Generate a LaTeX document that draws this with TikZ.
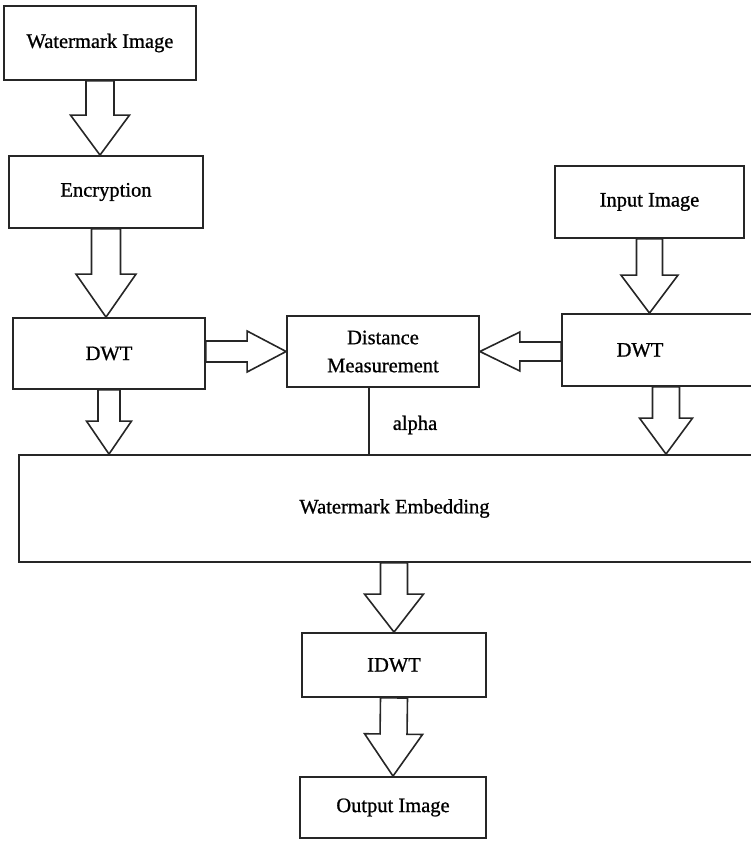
\documentclass[tikz,border=0pt]{standalone}
\usepackage{fontspec}
\setmainfont{Liberation Serif}[FakeBold=0.9]
\newfontfamily\boxfont{Liberation Serif}[FakeBold=0.9]
\usetikzlibrary{calc,positioning}

\tikzset{
  box/.style={draw=black!85, line width=1.8pt, inner sep=0pt, align=center,
    font=\boxfont\fontsize{20.5}{28}\selectfont},
  blockarrow/.style={draw=black!85, line width=1.6pt, fill=white, line join=miter},
}

% hollow block arrow: #1 start, #2 tip, #3 half shaft, #4 half head, #5 head length
\newcommand{\blockarrow}[5]{%
  \coordinate (ba-h) at ($(#2)!#5!(#1)$);
  \draw[blockarrow] ($(#1)!#3!90:(#2)$) -- ($(ba-h)!#3!90:(#2)$) -- ($(ba-h)!#4!90:(#2)$)
    -- (#2) -- ($(ba-h)!#4!-90:(#2)$) -- ($(ba-h)!#3!-90:(#2)$) -- ($(#1)!#3!-90:(#2)$) -- cycle;
}

\begin{document}
\begin{tikzpicture}[x=1pt,y=-1pt]
  \useasboundingbox (0,0) rectangle (751,841);
  \clip (0,0) rectangle (751,841);

  % boxes
  \node[box, minimum width=192pt, minimum height=74pt] (wm)   at (100,43)    {Watermark Image};
  \node[box, minimum width=194pt, minimum height=72pt] (enc)  at (106,192)   {Encryption};
  \node[box, minimum width=189pt, minimum height=72pt] (inp)  at (649.5,202) {Input Image};
  \node[box, minimum width=192pt, minimum height=71pt] (dwtL) at (109,353.5) {DWT};
  \node[box, minimum width=192pt, minimum height=71pt] (dist) at (383,351.5) {Distance\\Measurement};
  \node[box, minimum width=208pt, minimum height=72pt] (dwtR) at (666,350)   {};
  \node[font=\boxfont\fontsize{20.5}{28}\selectfont] (dwtRtxt) at (640,350) {DWT};
  \node[box, minimum width=751pt, minimum height=107pt] (emb) at (394.5,508.5) {Watermark Embedding};
  \node[box, minimum width=184pt, minimum height=64pt] (idwt) at (394,665)   {IDWT};
  \node[box, minimum width=186pt, minimum height=61pt] (out)  at (393,807.5) {Output Image};

  % block arrows
  \coordinate (t1) at (wm.south |- enc.north);
  \blockarrow{wm.south}{t1}{14pt}{29.5pt}{40pt}
  \coordinate (t2) at (enc.south |- dwtL.north);
  \blockarrow{enc.south}{t2}{14.5pt}{30pt}{43pt}
  \coordinate (t3) at (inp.south |- dwtR.north);
  \blockarrow{inp.south}{t3}{13pt}{28.5pt}{38pt}
  \coordinate (s4) at (dwtL.east |- dist.west);
  \blockarrow{s4}{dist.west}{10.5pt}{20.5pt}{39pt}
  \coordinate (s5) at (dwtR.west |- dist.east);
  \blockarrow{s5}{dist.east}{9.5pt}{19.5pt}{40pt}
  \coordinate (t6) at (dwtL.south |- emb.north);
  \blockarrow{dwtL.south}{t6}{11pt}{22.5pt}{33pt}
  \coordinate (t7) at (dwtR.south |- emb.north);
  \blockarrow{dwtR.south}{t7}{13.5pt}{26.5pt}{36pt}
  \coordinate (s8) at (idwt.north |- emb.south);
  \blockarrow{s8}{idwt.north}{13.5pt}{29.5pt}{38pt}
  \blockarrow{idwt.south}{out.north}{13.5pt}{29pt}{42pt}

  % alpha line
  \coordinate (a0) at ([xshift=-14pt]dist.south);
  \draw[draw=black!85, line width=1.6pt] (a0) -- (a0 |- emb.north);
  \node[font=\boxfont\fontsize{20.5}{28}\selectfont] (alpha) at (415,425) {alpha};
\end{tikzpicture}
\end{document}
